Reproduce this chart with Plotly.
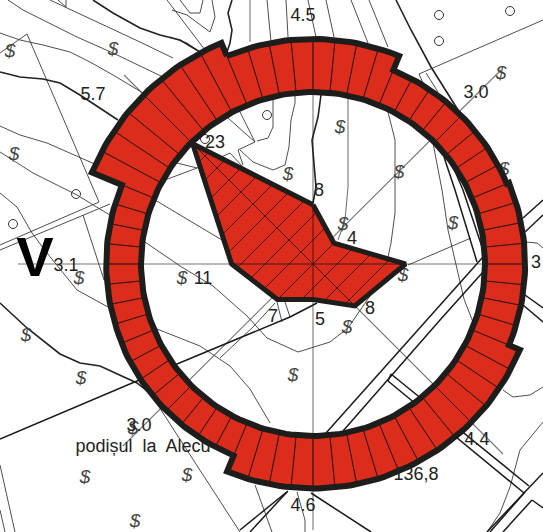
import numpy as np
import plotly.graph_objects as go

# ---------- wind rose data ----------
directions = ["N", "NE", "E", "SE", "S", "SV", "V", "NV"]
wind_speed = [4.5, 3.2, 3.4, 4.4, 4.45, 3.0, 2.95, 5.7]
wind_freq = [8, 4, 12.5, 8, 4.8, 6.8, 11, 23]

CENTER = (313, 264)
RING_R = 172
SPEED_K = 11.8
FREQ_K = 7.4

# ---------- base map ----------
thick_contours = [
    [(93, 0), (113, 13), (140, 28), (160, 35), (180, 40), (200, 52)],
    [(0, 72), (20, 77), (43, 79), (60, 83), (80, 95), (100, 108), (118, 120)],
    [(232, 0), (228, 13), (232, 30), (230, 43), (227, 52)],
    [(396, 0), (411, 30), (431, 67), (458, 110)],
    [(321, 95), (318, 117), (312, 140), (314, 163), (316, 187), (313, 203)],
    [(0, 303), (27, 328), (60, 354), (80, 363), (100, 366), (117, 374), (137, 383), (147, 391)],
]
thin_lines = [
    [(0, 33), (20, 40), (43, 45), (70, 52), (90, 62), (113, 75), (143, 93)],
    [(8, 0), (23, 10), (43, 20), (77, 37), (113, 53), (163, 77)],
    [(50, 0), (100, 23), (140, 42), (173, 58)],
    [(170, 37), (187, 43), (200, 52)],
    [(0, 126), (20, 135), (47, 143), (97, 165)],
    [(177, 163), (197, 168)],
    [(0, 152), (33, 173), (77, 195), (113, 217)],
    [(155, 200), (227, 243)],
    [(0, 53), (27, 34), (99, 202), (0, 245)],
    [(0, 250), (110, 204)],
    [(83, 215), (100, 266), (104, 280)],
    [(0, 193), (17, 207), (32, 233), (47, 253), (77, 290), (108, 307)],
    [(145, 242), (180, 266), (213, 286), (247, 316), (267, 338), (298, 352), (330, 342), (348, 328), (372, 293)],
    [(157, 329), (200, 346), (230, 366), (250, 389), (270, 423)],
    [(165, 180), (197, 168), (230, 153), (243, 167)],
    [(273, 100), (273, 127), (268, 138), (257, 141)],
    [(228, 118), (255, 142)],
    [(255, 142), (238, 150), (243, 165)],
    [(240, 150), (253, 162), (273, 170), (285, 165), (289, 147), (291, 120), (295, 103), (295, 90)],
    [(240, 112), (255, 142)],
    [(180, 0), (190, 13), (200, 13), (203, 0)],
    [(172, 10), (187, 15), (210, 32), (215, 17), (212, 0)],
    [(167, 0), (205, 50)],
    [(58, 0), (66, 7), (66, 0)],
    [(267, 0), (271, 42)],
    [(286, 0), (288, 37)],
    [(308, 0), (316, 37)],
    [(326, 0), (334, 37)],
    [(351, 0), (368, 43)],
    [(369, 0), (388, 47)],
    [(419, 74), (543, 20)],
    [(419, 74), (427, 92)],
    [(426, 73), (438, 92)],
    [(388, 112), (395, 140), (395, 213), (391, 243), (388, 257)],
    [(433, 143), (442, 190), (448, 230), (456, 266), (464, 299), (473, 322)],
    [(408, 265), (471, 238)],
    [(525, 242), (537, 243), (543, 248)],
    [(543, 422), (520, 450), (510, 487), (500, 513), (487, 532)],
    [(503, 390), (513, 397), (530, 395), (543, 387)],
    [(128, 359), (240, 532)],
    [(255, 485), (272, 532)],
    [(297, 492), (305, 520), (305, 532)],
    [(275, 303), (253, 327), (220, 358)],
    [(277, 302), (282, 322)],
    [(285, 302), (290, 317)],
    [(0, 465), (15, 532)],
    [(0, 510), (5, 532)],
]
gray_lines = [
    [(250, 0), (250, 42)],
    [(348, 97), (348, 187), (345, 220), (338, 240)],
    [(313, 40), (313, 530)],
    [(18, 264), (525, 264)],
    [(501, 70), (123, 446)],
    [(124, 75), (503, 454)],
]
road_lines = [
    [(444, 157), (455, 190), (477, 262)],
    [(449, 157), (463, 190), (482, 247)],
    [(483, 257), (440, 305), (326, 433)],
    [(483, 272), (440, 320), (343, 431)],
    [(288, 491), (240, 530)],
    [(287, 492), (250, 532)],
    [(523, 218), (543, 200)],
    [(525, 232), (543, 215)],
    [(525, 295), (543, 308)],
    [(523, 305), (543, 322)],
    [(391, 374), (529, 486)],
    [(388, 381), (524, 493)],
    [(391, 374), (388, 381)],
    [(543, 473), (487, 532)],
    [(525, 492), (490, 532)],
    [(532, 500), (503, 532)],
    [(532, 500), (543, 508)],
    [(311, 493), (371, 532)],
    [(0, 439), (133, 383), (177, 364)],
    [(177, 364), (272, 324), (290, 317), (317, 303)],
]
map_circles = [(13, 224), (76, 194), (439, 15), (510, 11), (439, 41), (267, 115), (205, 139)]
grass_marks = [
    (10, 52), (113, 50), (14, 155), (501, 74), (504, 170), (340, 128), (399, 173),
    (288, 175), (343, 225), (453, 224), (182, 279), (79, 279), (26, 336), (81, 379),
    (85, 478), (187, 476), (135, 522), (133, 429), (403, 276), (347, 328), (293, 376),
]
labels = ["4.5", "3.0", "5.7", "23", "8", "4", "3", "3.1", "11", "7", "5", "8", "3.0", "4.4", "136,8", "4.6"]
label_xy = [(303, 16), (476, 93), (93, 95), (215, 143), (319, 191), (352, 239), (536, 263), (66, 266),
            (203, 279), (273, 317), (320, 320), (370, 309), (139, 426), (477, 440), (416, 475), (303, 506)]
place_name = "podișul\u00a0 la\u00a0 Alecu"
place_xy = (143, 447)
region_mark = "V"
region_xy = (35, 262)

RED = "#DC2C1C"
DARK = "#1D1D1B"


def flat(polylines):
    xs, ys = [], []
    for pl in polylines:
        xs += [p[0] for p in pl] + [None]
        ys += [p[1] for p in pl] + [None]
    return xs, ys


def polar_xy(bearing_deg, r):
    a = np.radians(bearing_deg)
    return CENTER[0] + r * np.sin(a), CENTER[1] - r * np.cos(a)


def clip_to_polygon(poly, point, direction):
    """Segments of an infinite line that fall inside a polygon."""
    px, py = point
    dx, dy = direction
    hits = []
    n = len(poly)
    for i in range(n):
        x1, y1 = poly[i]
        x2, y2 = poly[(i + 1) % n]
        s1 = (x1 - px) * dy - (y1 - py) * dx
        s2 = (x2 - px) * dy - (y2 - py) * dx
        if (s1 <= 0 < s2) or (s2 <= 0 < s1):
            t = s1 / (s1 - s2)
            hx, hy = x1 + t * (x2 - x1), y1 + t * (y2 - y1)
            hits.append(((hx - px) * dx + (hy - py) * dy, hx, hy))
    hits.sort()
    segs = []
    for a, b in zip(hits[0::2], hits[1::2]):
        segs.append([(a[1], a[2]), (b[1], b[2])])
    return segs


fig = go.Figure()


def add_lines(polylines, color, width):
    x, y = flat(polylines)
    fig.add_trace(go.Scatter(x=x, y=y, mode="lines", line=dict(color=color, width=width),
                             hoverinfo="skip", showlegend=False))


add_lines(gray_lines, "#777777", 1.1)
add_lines(thin_lines, "#3A3A3A", 0.9)
add_lines(road_lines, "#1A1A1A", 1.5)
add_lines(thick_contours, "#222222", 1.6)

fig.add_trace(go.Scatter(
    x=[c[0] for c in map_circles], y=[c[1] for c in map_circles], mode="markers",
    marker=dict(size=9, color="rgba(255,255,255,0)", line=dict(color="#333333", width=1)),
    hoverinfo="skip", showlegend=False))
fig.add_trace(go.Scatter(
    x=[g[0] for g in grass_marks], y=[g[1] for g in grass_marks], mode="text",
    text=["$"] * len(grass_marks), textposition="middle center",
    textfont=dict(family="Liberation Sans", size=19, color="#444444", style="italic"),
    hoverinfo="skip", showlegend=False))

# frequency polygon
bearings = [i * 45 for i in range(len(directions))]
poly = [polar_xy(b, f * FREQ_K) for b, f in zip(bearings, wind_freq)]
fig.add_trace(go.Scatter(
    x=[p[0] for p in poly] + [poly[0][0]], y=[p[1] for p in poly] + [poly[0][1]],
    mode="lines", fill="toself", fillcolor=RED, line=dict(color=RED, width=0),
    hoverinfo="skip", showlegend=False))
hatch = []
for k in range(-12, 13):
    hatch += clip_to_polygon(poly, (CENTER[0] + k * 24, CENTER[1]), (1, -1))
hatch += clip_to_polygon(poly, CENTER, (1, 1))
hatch += clip_to_polygon(poly, CENTER, (0, 1))
hatch += clip_to_polygon(poly, CENTER, (1, 0))
add_lines(hatch, "#3A1510", 0.9)
fig.add_trace(go.Scatter(
    x=[p[0] for p in poly] + [poly[0][0]], y=[p[1] for p in poly] + [poly[0][1]],
    mode="lines", line=dict(color=DARK, width=5, shape="linear"),
    hoverinfo="skip", showlegend=False))

# speed ring: 8 cells in each direction sector
STEP = 45 / 8
cell_x, cell_y = [], []
outline_x, outline_y = [], []
for b, v in zip(bearings, wind_speed):
    R = RING_R + SPEED_K * v
    for j in range(8):
        a0 = b - 22.5 + j * STEP
        arc = np.linspace(a0, a0 + STEP, 5)
        ox, oy = polar_xy(arc, R)
        ix, iy = polar_xy(arc[::-1], RING_R)
        cell_x += list(ox) + list(ix) + [ox[0], None]
        cell_y += list(oy) + list(iy) + [oy[0], None]
        outline_x += list(ox)
        outline_y += list(oy)
fig.add_trace(go.Scatter(x=cell_x, y=cell_y, mode="lines", fill="toself", fillcolor=RED,
                         line=dict(color="#2A1512", width=0.7), hoverinfo="skip", showlegend=False))
fig.add_trace(go.Scatter(x=outline_x + outline_x[:1], y=outline_y + outline_y[:1], mode="lines",
                         line=dict(color=DARK, width=6), hoverinfo="skip", showlegend=False))
circ = np.linspace(0, 360, 241)
cx, cy = polar_xy(circ, RING_R)
fig.add_trace(go.Scatter(x=cx, y=cy, mode="lines", line=dict(color=DARK, width=6),
                         hoverinfo="skip", showlegend=False))

# labels
fig.add_trace(go.Scatter(
    x=[p[0] for p in label_xy], y=[p[1] for p in label_xy], mode="text", text=labels,
    textposition="middle center",
    textfont=dict(family="Liberation Sans", size=18, color="#222222"),
    hoverinfo="skip", showlegend=False))
fig.add_trace(go.Scatter(
    x=[place_xy[0]], y=[place_xy[1]], mode="text", text=[place_name], textposition="middle center",
    textfont=dict(family="Liberation Sans", size=18, color="#222222"),
    hoverinfo="skip", showlegend=False))
fig.add_trace(go.Scatter(
    x=[region_xy[0]], y=[region_xy[1]], mode="text", text=[region_mark], textposition="middle center",
    textfont=dict(family="Liberation Sans", size=56, color="#000000", weight="bold"),
    hoverinfo="skip", showlegend=False))

fig.update_layout(
    width=543, height=532, margin=dict(l=0, r=0, t=0, b=0),
    paper_bgcolor="white", plot_bgcolor="white", showlegend=False,
    xaxis=dict(range=[0, 543], visible=False, fixedrange=True),
    yaxis=dict(range=[532, 0], visible=False, fixedrange=True),
)
fig.write_html("out.html", config={"displayModeBar": False},
               post_script="document.body.style.margin='0';document.body.style.overflow='hidden';")
